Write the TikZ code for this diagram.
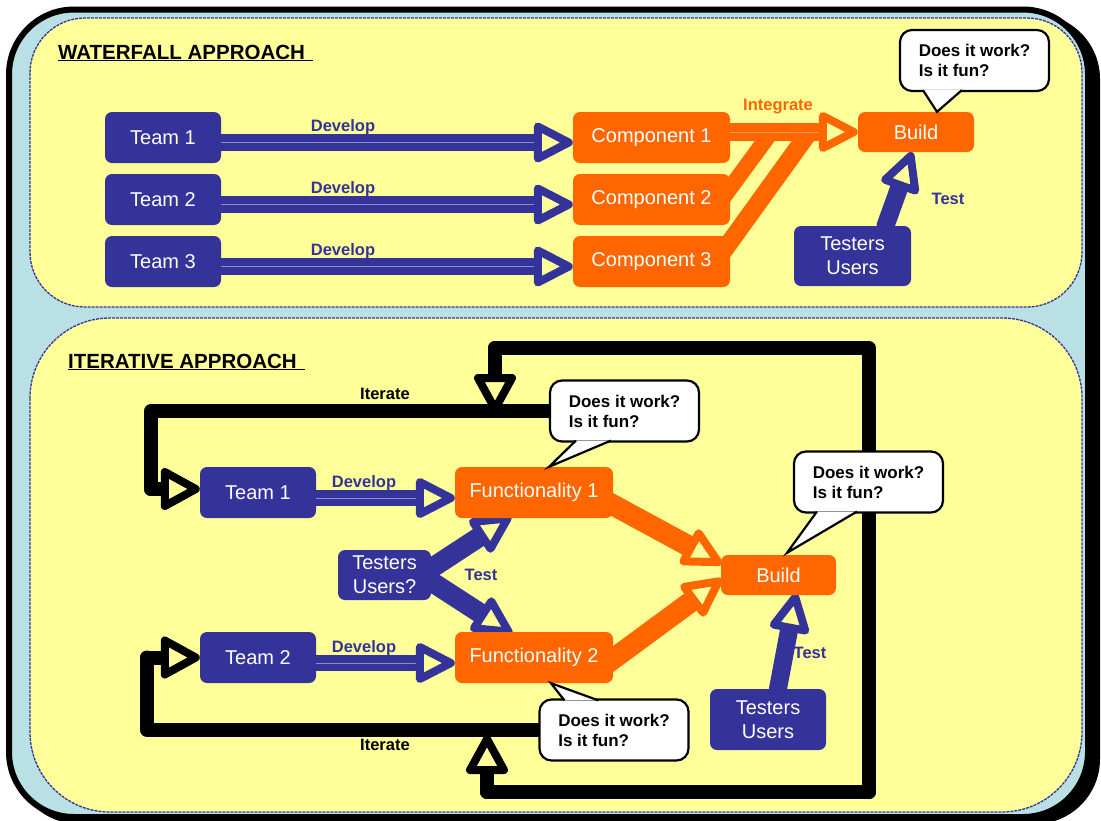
\documentclass[tikz,border=0pt]{standalone}
\usepackage{fontspec}
\setmainfont{Liberation Sans}
\usetikzlibrary{calc}
\definecolor{navy}{RGB}{51,51,153}
\definecolor{org}{RGB}{255,102,0}
\definecolor{ybg}{RGB}{255,255,153}
\definecolor{lblue}{RGB}{185,224,228}
\pgfdeclarelayer{back}
\pgfdeclarelayer{mid}
\pgfdeclarelayer{front}
\pgfsetlayers{back,mid,main,front}
% #1 centre-line colour, #2 colour, #3 body width, #4 from, #5 to (outer tip), #6 head length, #7 head half width
\newcommand{\harrow}[7][none]{%
  \coordinate (hA) at (#4);
  \coordinate (hE) at (#5);
  \coordinate (hT) at ($(hE)!4pt!(hA)$);
  \coordinate (hB) at ($(hT)!#6!(hA)$);
  \draw[draw=#2, line width=#3, line cap=round] (hA) -- (hB);
  \draw[draw=#1, line width=0.5pt] (hA) -- (hB);
  \filldraw[draw=#2, fill=ybg, line width=8pt, line join=round]
    (hT) -- ($(hB)!#7!90:(hT)$) -- ($(hB)!#7!-90:(hT)$) -- cycle;
}
\tikzset{
  box/.style={rounded corners=7pt, inner sep=0pt, text=white, align=center,
    font=\fontsize{20}{24}\selectfont},
  tb/.style={box, fill=navy},
  ob/.style={box, fill=org},
  lbl/.style={font=\bfseries\fontsize{16.5}{18}\selectfont, inner sep=0pt},
  ttl/.style={anchor=base west, inner sep=0pt, font=\bfseries\fontsize{20.5}{24}\selectfont},
  bub/.style={fill=white, draw=black, line width=2.2pt, rounded corners=12pt,
    minimum width=149pt, minimum height=61pt, align=left, inner sep=0pt,
    font=\bfseries\fontsize{17}{20}\selectfont},
  tail/.style={fill=white, draw=black, line width=2.2pt, line join=miter},
  loopline/.style={draw=black, line width=14pt, line cap=round, line join=round},
  panel/.style={fill=ybg, draw=navy, line width=1.3pt, dash pattern=on 3pt off 1pt},
}
\begin{document}
\begin{tikzpicture}[x=1pt,y=-1pt]
\useasboundingbox (0,0) rectangle (1101,820);
\begin{pgfonlayer}{back}
  \fill[black, rounded corners=65pt] (14,14) rectangle (1100,824);
  \filldraw[fill=lblue, draw=black, line width=6pt, rounded corners=65pt] (9,9.5) rectangle (1088,817);
  \filldraw[panel, rounded corners=55pt] (30,18) rectangle (1082,307);
  \filldraw[panel, rounded corners=80pt] (30,318) rectangle (1082,812);
\end{pgfonlayer}

% titles
\node[ttl] (wt) at (58,59) {\underline{WATERFALL APPROACH\hspace{8pt}}};
\node[ttl] (it) at (68,368) {\underline{ITERATIVE APPROACH\hspace{8pt}}};

% waterfall nodes
\node[tb, minimum width=116pt, minimum height=51pt] (t1) at (163,137.5) {Team 1};
\node[tb, minimum width=116pt, minimum height=51pt] (t2) at (163,199.5) {Team 2};
\node[tb, minimum width=116pt, minimum height=51pt] (t3) at (163,261.5) {Team 3};
\node[ob, minimum width=157pt, minimum height=51pt] (c1) at (651.5,137.5) {Component 1};
\node[ob, minimum width=157pt, minimum height=51pt] (c2) at (651.5,199.5) {Component 2};
\node[ob, minimum width=157pt, minimum height=51pt] (c3) at (651.5,261.5) {Component 3};
\node[ob, minimum width=116pt, minimum height=40pt] (b1) at (916,132) {Build};
\node[tb, minimum width=117pt, minimum height=60pt] (u1) at (852.5,256) {Testers\\Users};

% iterative nodes
\node[tb, minimum width=116pt, minimum height=51pt] (t4) at (258,492.5) {Team 1};
\node[tb, minimum width=116pt, minimum height=51pt] (t5) at (258,657.5) {Team 2};
\node[ob, minimum width=158pt, minimum height=51pt] (f1) at (534,492.5) {Functionality 1};
\node[ob, minimum width=158pt, minimum height=51pt] (f2) at (534,657.5) {Functionality 2};
\node[tb, minimum width=93pt, minimum height=50pt] (uq) at (384.5,575) {Testers\\Users?};
\node[ob, minimum width=115pt, minimum height=40pt] (b2) at (778.5,575) {Build};
\node[tb, minimum width=116pt, minimum height=61pt] (u2) at (768,719.5) {Testers\\Users};

% labels
\node[lbl, text=navy] (d1) at (343,127) {Develop};
\node[lbl, text=navy] (d2) at (343,189) {Develop};
\node[lbl, text=navy] (d3) at (343,251) {Develop};
\node[lbl, text=org] (ig) at (778,107) {Integrate};
\node[lbl, text=navy] (ts1) at (948,199) {Test};
\node[lbl, text=black] (it1) at (385,394) {Iterate};
\node[lbl, text=black] (it2) at (385,745) {Iterate};
\node[lbl, text=navy] (d4) at (364,483) {Develop};
\node[lbl, text=navy] (d5) at (364,648) {Develop};
\node[lbl, text=navy] (ts2) at (481,575) {Test};
\node[lbl, text=navy] (ts3) at (810,653) {Test};

% callouts
\begin{pgfonlayer}{front}
  \node[bub] (q0) at (974.5,60.5) {Does it work?\\Is it fun?};
  \node[bub] (q1) at (624.5,411) {Does it work?\\Is it fun?};
  \node[bub] (q2) at (868.5,482) {Does it work?\\Is it fun?};
  \node[bub] (q3) at (614,730) {Does it work?\\Is it fun?};
  \filldraw[tail] ($(q0.south west)+(24,-2)$) -- ([xshift=21pt]b1.north) -- ($(q0.south west)+(63,-2)$);
  \filldraw[tail] ($(q1.south west)+(27,-2)$) -- ([xshift=15pt]f1.north) -- ($(q1.south west)+(62,-2)$);
  \filldraw[tail] ($(q2.south west)+(24,-2)$) -- ([xshift=8.5pt,yshift=2pt]b2.north) -- ($(q2.south west)+(64,-2)$);
  \filldraw[tail] ($(q3.north west)+(26,2)$) -- ([xshift=17pt]f2.south) -- ($(q3.north west)+(60,2)$);
\end{pgfonlayer}

% connectors
\begin{pgfonlayer}{mid}
  % waterfall develop
  \harrow[navy!55!white]{navy}{16.5pt}{[yshift=-5pt]t1.east}{[yshift=-5pt]c1.west}{31pt}{16pt}
  \harrow[navy!55!white]{navy}{16.5pt}{[yshift=-5pt]t2.east}{[yshift=-5pt]c2.west}{31pt}{16pt}
  \harrow[navy!55!white]{navy}{16.5pt}{[yshift=-5pt]t3.east}{[yshift=-5pt]c3.west}{31pt}{16pt}
  % integrate
  \coordinate (j2) at (772,131);
  \coordinate (j3) at (810,131);
  \draw[org, line width=16pt] ([xshift=-15pt,yshift=-9pt]c2.east) -- (j2);
  \draw[org, line width=18pt] ([xshift=-10pt,yshift=6pt]c3.east) -- (j3);
  \harrow[org!70!white]{org}{18pt}{[yshift=5.5pt]c1.east}{b1.west}{31pt}{16pt}
  % waterfall test
  \harrow{navy}{18pt}{[xshift=33pt]u1.north}{[xshift=-4pt]b1.south}{31pt}{16pt}

  % iterative develop
  \harrow[navy!55!white]{navy}{16.5pt}{[yshift=-5.5pt]t4.east}{[yshift=-5.5pt]f1.west}{31pt}{16pt}
  \harrow[navy!55!white]{navy}{16.5pt}{[yshift=-5.5pt]t5.east}{[yshift=-5.5pt]f2.west}{31pt}{16pt}
  % iterative test
  \harrow{navy}{20pt}{[xshift=-10pt]uq.east}{[xshift=-23pt,yshift=2pt]f1.south}{31pt}{16pt}
  \harrow{navy}{20pt}{[xshift=-10pt]uq.east}{[xshift=-22pt,yshift=-2pt]f2.north}{31pt}{16pt}
  % to build
  \harrow{org}{21pt}{[xshift=-13pt,yshift=-5.5pt]f1.east}{[xshift=1pt,yshift=11pt]b2.west}{31pt}{16pt}
  \harrow{org}{21pt}{[xshift=-15pt,yshift=-12.5pt]f2.east}{[xshift=1pt,yshift=-4pt]b2.west}{31pt}{16pt}
  \harrow{navy}{18pt}{[xshift=10pt]u2.north}{[xshift=17.5pt,yshift=2pt]b2.south}{31pt}{16pt}

  % iterate loops
  \coordinate (rb) at (869,792);
  \coordinate (rt) at (869,348);
  \coordinate (lt) at (495,348);
  \coordinate (dn) at (495,413);
  \coordinate (lb) at (487,792);
  \coordinate (up) at (487,735);
  \draw[loopline] (rb) -- (rt) -- (lt);
  \harrow{black}{14pt}{lt}{dn}{31pt}{17pt}
  \draw[loopline] (rb) -- (lb);
  \harrow{black}{14pt}{lb}{up}{31pt}{17pt}

  \coordinate (a1) at (151,411);
  \coordinate (a2) at (151,489);
  \draw[loopline] (q1.west) -- (a1) -- (a2);
  \harrow{black}{14pt}{a2}{[yshift=3.5pt]t4.west}{31pt}{17pt}
  \coordinate (e1) at (147,730);
  \coordinate (e2) at (147,657.5);
  \draw[loopline] (q3.west) -- (e1) -- (e2);
  \harrow{black}{14pt}{e2}{t5.west}{31pt}{17pt}
\end{pgfonlayer}
\end{tikzpicture}
\end{document}
